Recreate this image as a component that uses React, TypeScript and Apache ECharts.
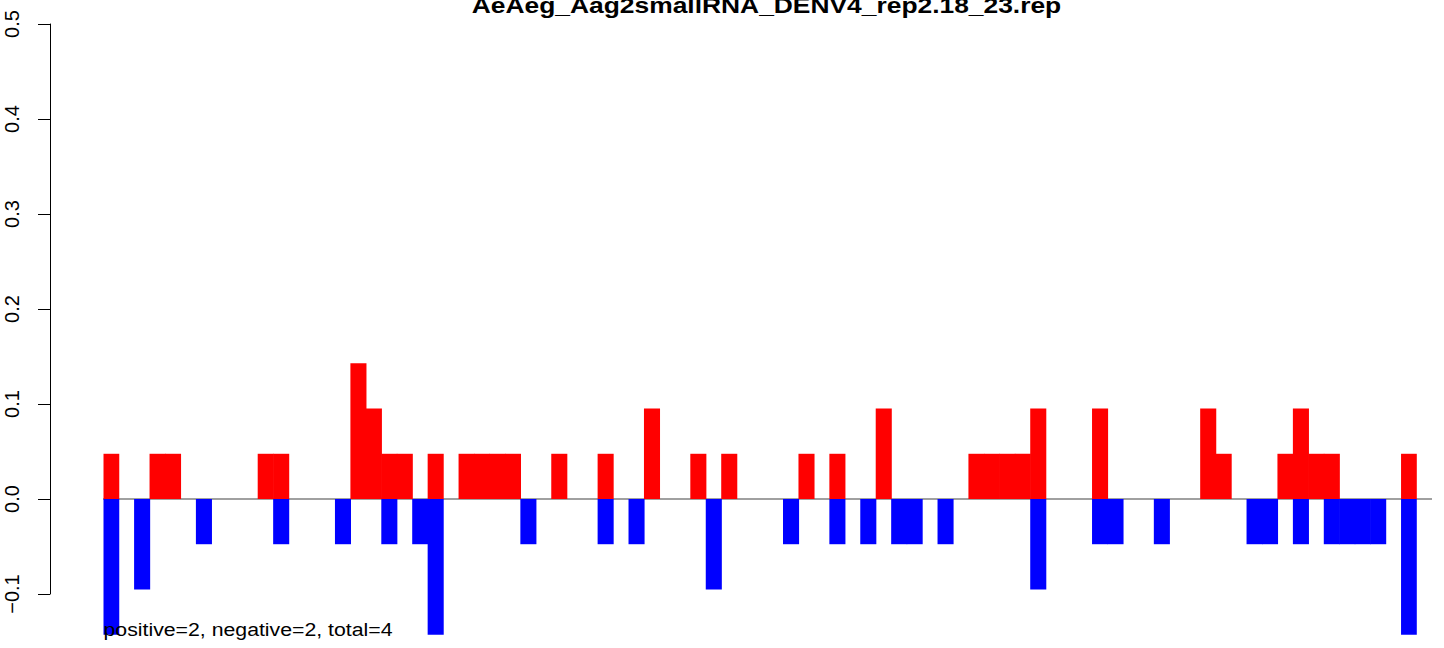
import React, { useEffect, useRef } from "react";
import * as echarts from "echarts";

const TITLE = "AeAeg_Aag2smallRNA_DENV4_rep2.18_23.rep";
const FOOTNOTE = "positive=2, negative=2, total=4";

// bin positions along the sequence (no axis labels shown)
const positions: string[] = Array.from({ length: 85 }, (_, i) => String(i + 1));

// forward-strand (positive) fractions
const positiveValues: number[] = [
  0.0476, 0, 0, 0.0476, 0.0476, 0, 0, 0, 0, 0,
  0.0476, 0.0476, 0, 0, 0, 0, 0.1429, 0.0952, 0.0476, 0.0476,
  0, 0.0476, 0, 0.0476, 0.0476, 0.0476, 0.0476, 0, 0, 0.0476,
  0, 0, 0.0476, 0, 0, 0.0952, 0, 0, 0.0476, 0,
  0.0476, 0, 0, 0, 0, 0.0476, 0, 0.0476, 0, 0,
  0.0952, 0, 0, 0, 0, 0, 0.0476, 0.0476, 0.0476, 0.0476,
  0.0952, 0, 0, 0, 0.0952, 0, 0, 0, 0, 0,
  0, 0.0952, 0.0476, 0, 0, 0, 0.0476, 0.0952, 0.0476, 0.0476,
  0, 0, 0, 0, 0.0476,
];

// reverse-strand (negative) fractions
const negativeValues: number[] = [
  -0.1429, 0, -0.0952, 0, 0, 0, -0.0476, 0, 0, 0,
  0, -0.0476, 0, 0, 0, -0.0476, 0, 0, -0.0476, 0,
  -0.0476, -0.1429, 0, 0, 0, 0, 0, -0.0476, 0, 0,
  0, 0, -0.0476, 0, -0.0476, 0, 0, 0, 0, -0.0952,
  0, 0, 0, 0, -0.0476, 0, 0, -0.0476, 0, -0.0476,
  0, -0.0476, -0.0476, 0, -0.0476, 0, 0, 0, 0, 0,
  -0.0952, 0, 0, 0, -0.0476, -0.0476, 0, 0, -0.0476, 0,
  0, 0, 0, 0, -0.0476, -0.0476, 0, -0.0476, 0, -0.0476,
  -0.0476, -0.0476, -0.0476, 0, -0.1429,
];

const FONT = "'Liberation Sans', Arial, Helvetica, sans-serif";

const toBars = (vals: number[]) => vals.map((v) => (v === 0 ? "-" : v));

export default function App() {
  const ref = useRef<HTMLDivElement>(null);

  useEffect(() => {
    if (!ref.current) return;
    const chart = echarts.init(ref.current, undefined, { renderer: "svg" });
    chart.setOption({
      animation: false,
      backgroundColor: "#ffffff",
      grid: [
        { left: 103.5, right: 27.2, top: 24, bottom: 6.5 },
        { left: 50, width: 1, top: 24, height: 570 },
      ],
      xAxis: [
        {
          type: "category",
          gridIndex: 0,
          data: positions,
          boundaryGap: true,
          show: false,
        },
        { type: "value", gridIndex: 1, show: false },
      ],
      yAxis: [
        { type: "value", gridIndex: 0, min: -0.15, max: 0.5, show: false },
        {
          type: "value",
          gridIndex: 1,
          min: -0.1,
          max: 0.5,
          interval: 0.1,
          axisLine: { show: true, lineStyle: { color: "#000", width: 1 } },
          axisTick: { show: true, length: 12, lineStyle: { color: "#000", width: 1 } },
          splitLine: { show: false },
          axisLabel: {
            rotate: 90,
            fontSize: 20,
            fontFamily: FONT,
            color: "#000",
            margin: 28,
            showMinLabel: true,
            showMaxLabel: true,
            formatter: (v: number) => v.toFixed(1).replace("-", "\u2212"),
          },
        },
      ],
      series: [
        {
          type: "bar",
          name: "positive",
          xAxisIndex: 0,
          yAxisIndex: 0,
          data: toBars(positiveValues),
          barWidth: "104%",
          barGap: "-100%",
          itemStyle: { color: "#ff0000" },
        },
        {
          type: "bar",
          name: "negative",
          xAxisIndex: 0,
          yAxisIndex: 0,
          data: toBars(negativeValues),
          barWidth: "104%",
          barGap: "-100%",
          itemStyle: { color: "#0000ff" },
        },
      ],
    });

    const y0 = chart.convertToPixel({ yAxisIndex: 0 }, 0) as number;
    chart.setOption({
      graphic: [
        {
          type: "line",
          z: 1,
          shape: { x1: 103, y1: y0, x2: 1432, y2: y0 },
          style: { stroke: "#808080", lineWidth: 1.5 },
        },
        {
          type: "text",
          x: 766.5,
          y: 16.6,
          scaleX: 1.2,
          style: {
            text: TITLE,
            fontSize: 22,
            fontWeight: "bold",
            fontFamily: FONT,
            fill: "#000",
            align: "center",
            verticalAlign: "bottom",
          },
        },
        {
          type: "text",
          x: 103.5,
          y: 638.9,
          scaleX: 1.12,
          z: 10,
          style: {
            text: FOOTNOTE,
            fontSize: 19,
            fontFamily: FONT,
            fill: "#000",
            align: "left",
            verticalAlign: "bottom",
          },
        },
      ],
    });

    return () => chart.dispose();
  }, []);

  return (
    <div
      ref={ref}
      style={{ position: "fixed", left: 0, top: 0, width: 1444, height: 648 }}
    />
  );
}
